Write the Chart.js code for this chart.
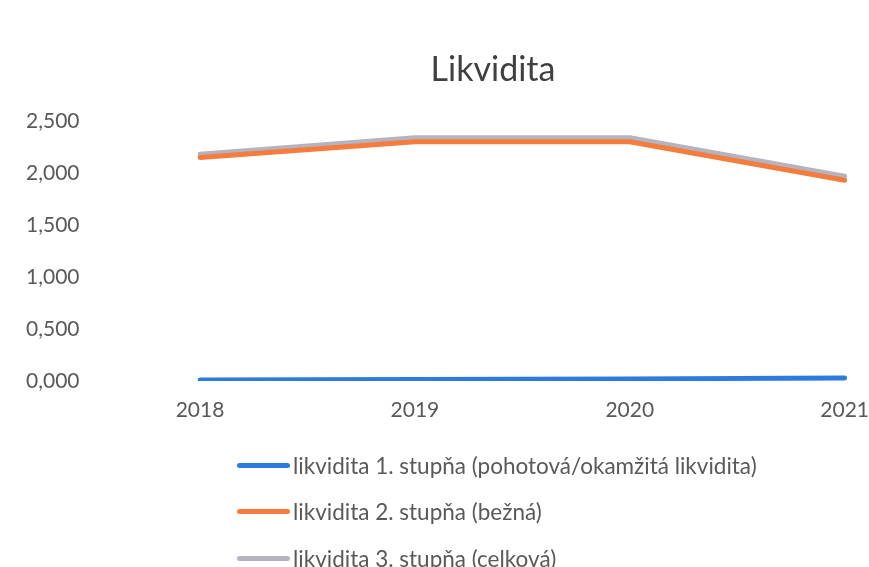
<!DOCTYPE html>
<html lang="cs">
<head>
   <meta charset="UTF-8">
   <title>Likvidita</title>
   <script src="https://cdn.jsdelivr.net/npm/chart.js"></script>
   <style>
      body {
         margin: 0;
         padding: 0;
         background: #fff;
         font-family: Lato, "Open Sans", sans-serif;
      }
      .wrap {
         position: relative;
         width: 869px;
         height: 567px;
      }
      canvas { display: block; }
      .title {
         position: absolute;
         left: 393px;
         width: 200px;
         top: 47px;
         text-align: center;
         font-size: 34px;
         line-height: 42px;
         color: #404040;
      }
      .legend {
         position: absolute;
         left: 237px;
         top: 442px;
         color: #595959;
         font-size: 22.5px;
      }
      .legend-item {
         display: flex;
         align-items: center;
         height: 46.5px;
      }
      .legend-line {
         width: 53px;
         height: 5px;
         border-radius: 3px;
         margin-right: 3px;
      }
   </style>
</head>
<body>
   <div class="wrap">
      <canvas id="likvChart" width="869" height="567"></canvas>
      <div class="title">Likvidita</div>
      <div class="legend" id="legend"></div>
   </div>

   <script>
      // data
      const years = ['2018', '2019', '2020', '2021'];
      const seriesNames = [
         'likvidita 1. stupňa (pohotová/okamžitá likvidita)',
         'likvidita 2. stupňa (bežná)',
         'likvidita 3. stupňa (celková)'
      ];
      const likvidita1 = [0.01, 0.015, 0.02, 0.03];
      const likvidita2 = [2.15, 2.30, 2.30, 1.93];
      const likvidita3 = [2.18, 2.34, 2.34, 1.97];
      const yTicks = [0, 0.5, 1, 1.5, 2, 2.5];

      const colors = ['#2e7be0', '#f47c3c', '#b5b3c0'];
      const values = [likvidita1, likvidita2, likvidita3];

      const fmt = v => v.toFixed(3).replace('.', ',');

      new Chart(document.getElementById('likvChart'), {
         type: 'line',
         data: {
            labels: years,
            datasets: values.map((d, i) => ({
               label: seriesNames[i],
               data: d,
               borderColor: colors[i],
               backgroundColor: colors[i],
               borderWidth: 5,
               borderCapStyle: 'round',
               borderJoinStyle: 'round',
               pointRadius: 0,
               tension: 0
            }))
         },
         options: {
            responsive: false,
            animation: false,
            layout: { padding: { left: 26, right: 24, top: 121, bottom: 142 } },
            plugins: {
               legend: { display: false },
               tooltip: { enabled: false },
               title: { display: false }
            },
            scales: {
               x: {
                  offset: false,
                  afterFit: s => { s.height = 44; },
                  // tick marks hidden, their length only pushes the labels down
                  grid: { display: false, drawTicks: true, tickLength: 17 },
                  border: { display: false },
                  ticks: {
                     color: '#595959',
                     font: { family: 'Lato', size: 21 },
                     padding: 0,
                     maxRotation: 0
                  }
               },
               y: {
                  min: 0,
                  max: 2.5,
                  afterFit: s => { s.width = 174; },
                  afterBuildTicks: s => { s.ticks = yTicks.map(v => ({ value: v })); },
                  grid: { display: false, drawTicks: false },
                  border: { display: false },
                  ticks: {
                     color: '#595959',
                     font: { family: 'Lato', size: 21 },
                     padding: 0,
                     crossAlign: 'far',
                     callback: v => fmt(v)
                  }
               }
            }
         }
      });

      // legend kept as html text
      const legend = document.getElementById('legend');
      seriesNames.forEach((name, i) => {
         const item = document.createElement('div');
         item.className = 'legend-item';
         item.innerHTML = '<div class="legend-line" style="background:' + colors[i] + '"></div><span>' + name + '</span>';
         legend.appendChild(item);
      });
   </script>
</body>
</html>
